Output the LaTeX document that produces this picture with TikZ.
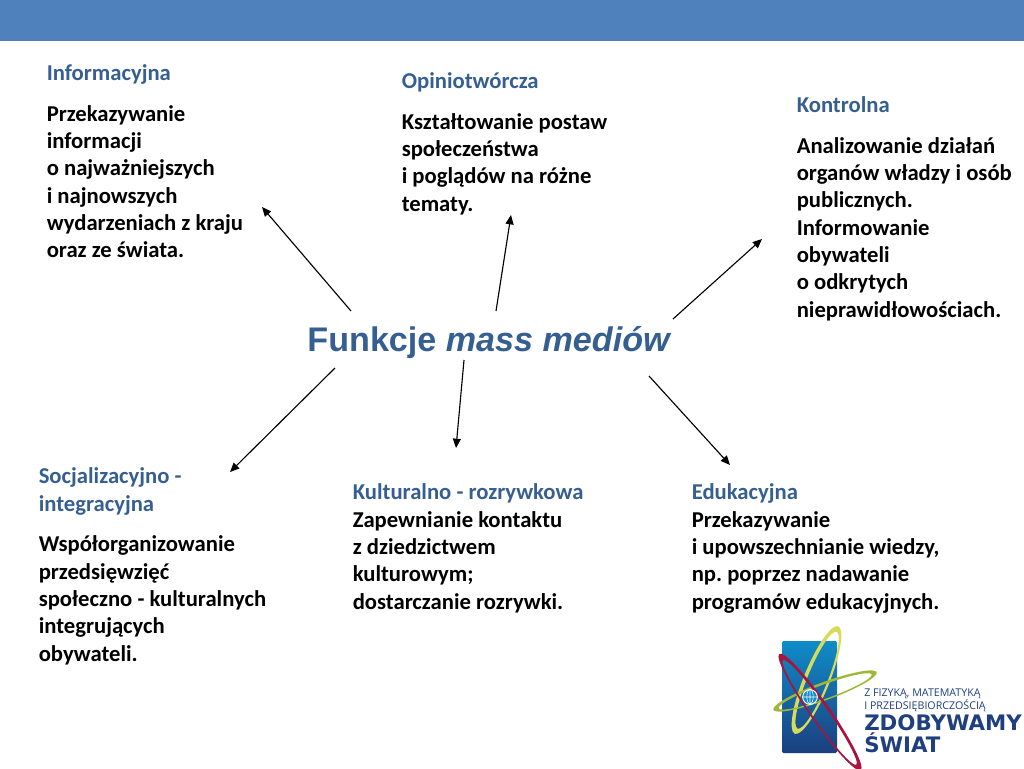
\documentclass[tikz,border=0pt]{standalone}
\usepackage{fontspec}
\setmainfont{Carlito}
\newfontfamily\arialf{Liberation Sans}
\newfontfamily\logof{Open Sans}
\newfontfamily\logob{DejaVu Sans}
\usetikzlibrary{arrows.meta}
\definecolor{band}{HTML}{4F81BD}
\definecolor{head}{HTML}{365F91}
\definecolor{logoblue}{HTML}{1F3F7F}
\definecolor{logotop}{HTML}{0F8CC8}
\definecolor{logobot}{HTML}{1C3F7E}
\definecolor{ringy}{HTML}{D6DC5A}
\definecolor{ringg}{HTML}{9DB83A}
\definecolor{ringr}{HTML}{A8143F}
\frenchspacing
\tikzset{
  x=0.75pt,y=-0.75pt,
  headtxt/.style={anchor=north west,inner sep=0pt,text=head,align=left,font=\fontsize{17}{20.5}\selectfont\bfseries},
  bodytxt/.style={anchor=north west,inner sep=0pt,text=black,align=left,font=\fontsize{17}{20.5}\selectfont\bfseries},
  arr/.style={draw=black,line width=0.85pt,-{Triangle[length=7pt,width=6pt]}},
  logotxt/.style={anchor=west,inner sep=0pt,text=logoblue,align=left},
}
\newcommand{\ring}[6]{% cx cy half-length half-width angle colour
  \begin{scope}[shift={(#1,#2)},rotate=#5]
    \fill[#6,even odd rule] (0,0) ellipse [x radius=#3*0.75pt,y radius=#4*0.75pt]
      (0,0.05*#4) ellipse [x radius=#3*0.90*0.75pt,y radius=#4*0.78*0.75pt];
  \end{scope}}
\begin{document}
\begin{tikzpicture}
\useasboundingbox (0,0) rectangle (1024,768);
\fill[band] (0,0) rectangle (1024,41);

\node[anchor=base,inner sep=0pt,text=head,font=\arialf\fontsize{25.6}{30}\selectfont\bfseries] (main) at (489.5,351) {Funkcje \textit{mass mediów}};

\node[headtxt] (h1) at (46.5,64) {Informacyjna};
\node[bodytxt] (b1) at (46.5,105) {Przekazywanie\\informacji\\o najważniejszych\\i najnowszych\\wydarzeniach z kraju\\oraz ze świata.};
\node[headtxt] (h2) at (401.5,72) {Opiniotwórcza};
\node[bodytxt] (b2) at (401.5,113) {Kształtowanie postaw\\społeczeństwa\\i poglądów na różne\\tematy.};
\node[headtxt] (h3) at (796.5,96) {Kontrolna};
\node[bodytxt] (b3) at (796.5,137) {Analizowanie działań\\organów władzy i osób\\publicznych.\\Informowanie\\obywateli\\o odkrytych\\nieprawidłowościach.};
\node[headtxt] (h4) at (38.5,467.5) {Socjalizacyjno -\\integracyjna};
\node[bodytxt] (b4) at (38.5,535.5) {Współorganizowanie\\przedsięwzięć\\społeczno - kulturalnych\\integrujących\\obywateli.};
\node[headtxt] (h5) at (352.5,483.5) {Kulturalno - rozrywkowa};
\node[bodytxt] (b5) at (352.5,511) {Zapewnianie kontaktu\\z dziedzictwem\\kulturowym;\\dostarczanie rozrywki.};
\node[headtxt] (h6) at (691.5,483.5) {Edukacyjna};
\node[bodytxt] (b6) at (691.5,511) {Przekazywanie\\i upowszechnianie wiedzy,\\np. poprzez nadawanie\\programów edukacyjnych.};

\coordinate (s1) at (351,311); \coordinate (e1) at (262,207);
\coordinate (s2) at (496,311); \coordinate (e2) at (511,215);
\coordinate (s3) at (673,319); \coordinate (e3) at (762,239);
\coordinate (s4) at (335,368); \coordinate (e4) at (230,472);
\coordinate (s5) at (464,360); \coordinate (e5) at (456,448);
\coordinate (s6) at (649,376); \coordinate (e6) at (730,465);
\foreach \i in {1,...,6} \draw[arr] (s\i) -- (e\i);

% logo
\shade[top color=logotop,bottom color=logobot,rounded corners=1pt] (782,641) rectangle (837,753);
\ring{816.5}{680}{58}{13}{68}{ringy}
\ring{825}{691}{55}{9}{20}{ringg}
\ring{820}{712}{71}{10}{-55}{ringr}
\node[circle,draw=white,line width=0.7pt,minimum size=11pt,inner sep=0pt,fill=logotop] (globe) at (810,697) {};
\draw[white,line width=0.4pt] (globe.west) -- (globe.east) (globe.north) -- (globe.south)
  (globe.north) arc[start angle=90,end angle=270,x radius=2.4pt,y radius=5.5pt]
  (globe.north) arc[start angle=90,end angle=-90,x radius=2.4pt,y radius=5.5pt];
\node[logotxt,font=\logof\fontsize{8}{9.4}\selectfont] (l1) at (864,700.5) {Z FIZYKĄ, MATEMATYKĄ\\I PRZEDSIĘBIORCZOŚCIĄ};
\node[logotxt,font=\logob\fontsize{16}{16.5}\selectfont\bfseries] (l2) at (864,733.5) {ZDOBYWAMY\\ŚWIAT};
\end{tikzpicture}
\end{document}
